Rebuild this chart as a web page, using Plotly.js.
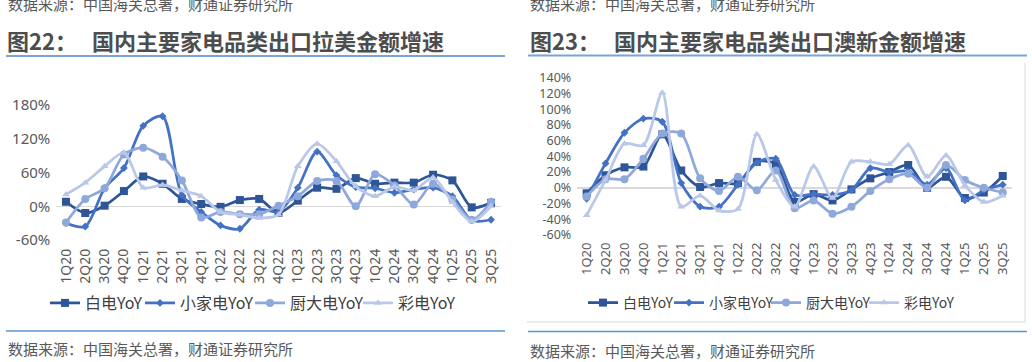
<!DOCTYPE html>
<html><head><meta charset="utf-8">
<script src="https://cdn.plot.ly/plotly-3.0.1.min.js"></script>
<style>html,body{margin:0;padding:0;background:#fff}#chart{width:1032px;height:362px}</style>
</head><body><div id="chart"></div>
<script>
const categories = ['1Q20','2Q20','3Q20','4Q20','1Q21','2Q21','3Q21','4Q21','1Q22','2Q22','3Q22','4Q22','1Q23','2Q23','3Q23','4Q23','1Q24','2Q24','3Q24','4Q24','1Q25','2Q25','3Q25'];
const seriesNames = ['白电YoY','小家电YoY','厨大电YoY','彩电YoY'];

// 图22 拉美
const latamWhite   = [8,-12,1,27,53,40,13,4,-1,11,13,-12,10,33,31,50,40,42,42,56,46,-2,6];
const latamSmall   = [-30,-36,32,68,143,160,20,-10,-34,-40,-6,-10,33,97,55,34,32,24,30,33,18,-25,-24];
const latamKitchen = [-29,13,32,92,104,88,46,-20,-10,-14,-14,1,18,45,45,0,57,37,3,40,12,-24,8];
const latamTV      = [21,42,71,95,33,38,28,18,-10,-15,-21,-15,71,111,80,35,18,35,28,51,7,-27,0];
const latamTickVals = [-60,0,60,120,180];
const latamTickText = ['-60%','0%','60%','120%','180%'];

// 图23 澳新
const anzWhite   = [-7,16,26,27,68,22,1,6,6,33,30,-18,-8,-16,-2,12,20,29,0,14,-13,-6,15];
const anzSmall   = [-14,31,70,88,84,6,-24,-24,4,32,37,-9,-8,-9,-3,25,20,21,4,25,-16,-3,4];
const anzKitchen = [-11,11,11,37,69,69,12,-4,14,-3,22,-26,-16,-33,-24,-4,11,18,0,29,10,0,-6];
const anzTV      = [-35,10,56,54,121,-24,-10,-29,-27,68,10,-24,27,-13,33,33,30,54,14,41,3,-18,-10];
const anzTickVals = [-60,-40,-20,0,20,40,60,80,100,120,140];
const anzTickText = ['-60%','-40%','-20%','0%','20%','40%','60%','80%','100%','120%','140%'];

const W = 1032, H = 362;
const px = x => x / W, py = y => 1 - y / H;
const colors = ['#2E5597', '#4371C3', '#8FA8DC', '#B9C8E8'];
const symbols = ['square', 'diamond', 'circle', 'triangle-up'];
const sizes = [8, 6, 8, 7];
const FONT = 'Noto Sans, Noto Sans CJK SC, sans-serif';
const CJK = 'Noto Sans CJK SC, sans-serif';

function mk(vals, i, xa, ya, leg) {
  return {
    type: 'scatter', mode: 'lines+markers', x: categories, y: vals, name: seriesNames[i],
    xaxis: xa, yaxis: ya, legend: leg, hoverinfo: 'skip', cliponaxis: false,
    line: {color: colors[i], width: 2.75, shape: 'spline', smoothing: 0.8},
    marker: {symbol: symbols[i], size: sizes[i], color: colors[i]}
  };
}

const traces = [
  mk(latamWhite, 0, 'x', 'y', 'legend'),
  mk(latamSmall, 1, 'x', 'y', 'legend2'),
  mk(latamKitchen, 2, 'x', 'y', 'legend3'),
  mk(latamTV, 3, 'x', 'y', 'legend4'),
  mk(anzWhite, 0, 'x2', 'y2', 'legend5'),
  mk(anzSmall, 1, 'x2', 'y2', 'legend6'),
  mk(anzKitchen, 2, 'x2', 'y2', 'legend7'),
  mk(anzTV, 3, 'x2', 'y2', 'legend8')
];

const tickColor = '#595959';
const xBase = {type: 'category', range: [-0.5, 22.5], tickangle: -90, showgrid: false, showline: false, zeroline: false, ticks: '', fixedrange: true};
const yBase = {showgrid: false, showline: false, zeroline: true, zerolinecolor: '#D9D9D9', zerolinewidth: 1.5, ticks: '', tickmode: 'array', fixedrange: true};

const lineBlue = '#7BA3D6';
const srcText = '数据来源：中国海关总署，财通证券研究所';

function leg(xLeft, size) {
  return {orientation: 'h', x: px(xLeft), xanchor: 'left', y: py(303), yanchor: 'middle',
          font: {size: size, color: '#404040', family: CJK}, bgcolor: 'rgba(0,0,0,0)', itemwidth: 30};
}
const TXT_OFF = 40;
const leftLegendText = [85, 180, 290, 398];
const rightLegendText = [623, 709, 806, 904];

const layout = {
  width: W, height: H, margin: {l: 0, r: 0, t: 0, b: 0},
  paper_bgcolor: '#fff', plot_bgcolor: 'rgba(0,0,0,0)',
  font: {family: FONT, color: tickColor},
  showlegend: true,
  xaxis: Object.assign({}, xBase, {domain: [px(56.3), px(500.7)], anchor: 'y', ticklabelstandoff: 5, tickfont: {size: 14, color: tickColor, family: FONT}}),
  yaxis: Object.assign({}, yBase, {domain: [py(240), py(105)], anchor: 'x', range: [-60, 180], tickvals: latamTickVals, ticktext: latamTickText, ticklabelstandoff: 5, tickfont: {size: 15, color: tickColor, family: FONT}}),
  xaxis2: Object.assign({}, xBase, {domain: [px(577.2), px(1012.2)], anchor: 'y2', ticklabelstandoff: 4, tickfont: {size: 13, color: tickColor, family: FONT}}),
  yaxis2: Object.assign({}, yBase, {domain: [py(235), py(77.7)], anchor: 'x2', range: [-60, 140], tickvals: anzTickVals, ticktext: anzTickText, ticklabelstandoff: 5, tickfont: {size: 12.5, color: tickColor, family: FONT}}),
  legend: leg(leftLegendText[0] - TXT_OFF, 16),
  legend2: leg(leftLegendText[1] - TXT_OFF, 16),
  legend3: leg(leftLegendText[2] - TXT_OFF, 16),
  legend4: leg(leftLegendText[3] - TXT_OFF, 16),
  legend5: leg(rightLegendText[0] - TXT_OFF, 14),
  legend6: leg(rightLegendText[1] - TXT_OFF, 14),
  legend7: leg(rightLegendText[2] - TXT_OFF, 14),
  legend8: leg(rightLegendText[3] - TXT_OFF, 14),
  shapes: [
    {type: 'line', xref: 'paper', yref: 'paper', x0: px(6), x1: px(505), y0: py(56), y1: py(56), line: {color: lineBlue, width: 2}},
    {type: 'line', xref: 'paper', yref: 'paper', x0: px(528), x1: px(1027), y0: py(55.5), y1: py(55.5), line: {color: lineBlue, width: 2}},
    {type: 'line', xref: 'paper', yref: 'paper', x0: px(6), x1: px(505), y0: py(331), y1: py(331), line: {color: '#5E93CF', width: 1.5}},
    {type: 'line', xref: 'paper', yref: 'paper', x0: px(528), x1: px(1027), y0: py(331.5), y1: py(331.5), line: {color: '#5E93CF', width: 1.5}},
    {type: 'line', xref: 'paper', yref: 'paper', x0: px(1025), x1: px(1025), y0: py(63), y1: py(322), line: {color: '#D9D9D9', width: 1}},
    {type: 'line', xref: 'paper', yref: 'paper', x0: px(527), x1: px(1025), y0: py(322), y1: py(322), line: {color: '#D9D9D9', width: 1}}
  ],
  annotations: [
    {xref: 'paper', yref: 'paper', x: px(6), y: py(3), xanchor: 'left', yanchor: 'middle', showarrow: false, text: srcText, font: {size: 15, color: '#595959', family: CJK}},
    {xref: 'paper', yref: 'paper', x: px(528), y: py(3), xanchor: 'left', yanchor: 'middle', showarrow: false, text: srcText, font: {size: 15, color: '#595959', family: CJK}},
    {xref: 'paper', yref: 'paper', x: px(5), y: py(40), xanchor: 'left', yanchor: 'middle', showarrow: false, text: '<b>图22：</b>', font: {size: 22, color: '#4D4D4D', family: CJK}},
    {xref: 'paper', yref: 'paper', x: px(90), y: py(40), xanchor: 'left', yanchor: 'middle', showarrow: false, text: '<b>国内主要家电品类出口拉美金额增速</b>', font: {size: 22, color: '#4D4D4D', family: CJK}},
    {xref: 'paper', yref: 'paper', x: px(528), y: py(40), xanchor: 'left', yanchor: 'middle', showarrow: false, text: '<b>图23：</b>', font: {size: 22, color: '#4D4D4D', family: CJK}},
    {xref: 'paper', yref: 'paper', x: px(612), y: py(40), xanchor: 'left', yanchor: 'middle', showarrow: false, text: '<b>国内主要家电品类出口澳新金额增速</b>', font: {size: 22, color: '#4D4D4D', family: CJK}},
    {xref: 'paper', yref: 'paper', x: px(6), y: py(348), xanchor: 'left', yanchor: 'middle', showarrow: false, text: srcText, font: {size: 15, color: '#595959', family: CJK}},
    {xref: 'paper', yref: 'paper', x: px(528), y: py(350), xanchor: 'left', yanchor: 'middle', showarrow: false, text: srcText, font: {size: 15, color: '#595959', family: CJK}}
  ]
};

Plotly.newPlot('chart', traces, layout, {staticPlot: true, displayModeBar: false});
</script>
</body></html>
